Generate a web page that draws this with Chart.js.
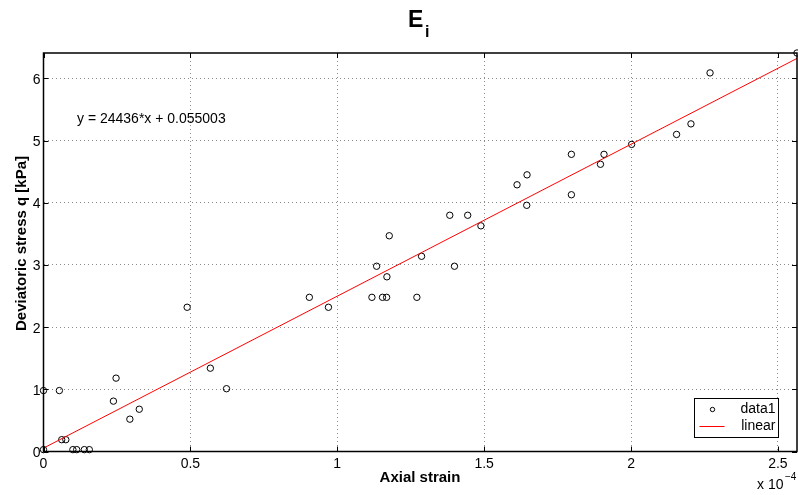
<!DOCTYPE html>
<html>
<head>
<meta charset="utf-8">
<script src="https://cdn.jsdelivr.net/npm/chart.js@4.4.1/dist/chart.umd.min.js"></script>
<style>
  html, body { margin: 0; padding: 0; background: #fff; }
  #wrap { width: 798px; height: 495px; position: relative; }
</style>
</head>
<body>
<div id="wrap"><canvas id="fitChart"></canvas></div>
<script>
// Axial strain (in units of 1e-4) and deviatoric stress q [kPa]
const strainE4 = [
  0, 0, 0.054, 0.062, 0.076, 0.100, 0.113, 0.139, 0.156,
  0.238, 0.247, 0.294, 0.326, 0.489, 0.568, 0.623,
  0.905, 0.970, 1.118, 1.134, 1.154, 1.168, 1.169, 1.177,
  1.271, 1.287, 1.383, 1.399, 1.444, 1.489, 1.612, 1.645,
  1.646, 1.797, 1.797, 1.896, 1.908, 2.002, 2.155, 2.204,
  2.269, 2.565
];
const stressKPa = [
  0.03, 0.98, 0.98, 0.19, 0.19, 0.03, 0.03, 0.03, 0.03,
  0.81, 1.18, 0.52, 0.68, 2.32, 1.34, 1.01,
  2.48, 2.32, 2.48, 2.98, 2.48, 2.48, 2.81, 3.47,
  2.48, 3.14, 3.80, 2.98, 3.80, 3.63, 4.29, 3.96,
  4.45, 4.78, 4.13, 4.62, 4.78, 4.94, 5.10, 5.27,
  6.09, 6.41
];

// linear fit reported on the plot
const fitSlope = 24436;
const fitIntercept = 0.055003;
const fitText = 'y = 24436*x + 0.055003';

const xTicks = [0, 0.5, 1, 1.5, 2, 2.5];
const yTicks = [0, 1, 2, 3, 4, 5, 6];
const xMax = 2.565;
const yMax = 6.41;

const points = strainE4.map((s, i) => ({ x: s, y: stressKPa[i] }));
const fitLine = [0, xMax].map(s => ({ x: s, y: fitSlope * s * 1e-4 + fitIntercept }));

const FONT = "'Liberation Sans', Arial, Helvetica, sans-serif";

// box, inward ticks, titles, equation and legend
const decorations = {
    id: 'decorations',
    afterDraw(chart) {
        const ctx = chart.ctx;
        const a = chart.chartArea;
        const xs = chart.scales.x, ys = chart.scales.y;
        ctx.save();

        // inward tick marks on all four sides
        ctx.strokeStyle = '#000';
        ctx.lineWidth = 1;
        ctx.beginPath();
        xTicks.forEach(t => {
            const px = Math.round(xs.getPixelForValue(t)) + 0.5;
            ctx.moveTo(px, a.bottom); ctx.lineTo(px, a.bottom - 5);
            ctx.moveTo(px, a.top); ctx.lineTo(px, a.top + 5);
        });
        yTicks.forEach(t => {
            const py = Math.round(ys.getPixelForValue(t)) + 0.5;
            ctx.moveTo(a.left, py); ctx.lineTo(a.left + 5, py);
            ctx.moveTo(a.right, py); ctx.lineTo(a.right - 5, py);
        });
        ctx.stroke();

        // axes box
        ctx.lineWidth = 1.5;
        ctx.strokeRect(a.left, a.top, a.right - a.left, a.bottom - a.top);

        // title E_i
        ctx.fillStyle = '#000';
        ctx.textBaseline = 'alphabetic';
        ctx.textAlign = 'left';
        ctx.font = 'bold 23px ' + FONT;
        ctx.fillText('E', 408, 27);
        ctx.font = 'bold 16px ' + FONT;
        ctx.fillText('i', 425, 37);

        // axis titles
        ctx.font = 'bold 15px ' + FONT;
        ctx.textAlign = 'center';
        ctx.textBaseline = 'middle';
        ctx.fillText('Axial strain', 420, 478);
        ctx.save();
        ctx.translate(21.5, 243.5);
        ctx.rotate(-Math.PI / 2);
        ctx.fillText('Deviatoric stress q [kPa]', 0, 0);
        ctx.restore();

        // x scale multiplier
        ctx.font = '14px ' + FONT;
        ctx.textAlign = 'left';
        ctx.fillText('x 10', 757, 485);
        ctx.font = '10px ' + FONT;
        ctx.fillText('\u22124', 785, 477);

        // fit equation
        ctx.font = '14px ' + FONT;
        ctx.fillText(fitText, 77, 119.5);

        // legend
        const lx = 694.5, ly = 398.5, lw = 84, lh = 39;
        ctx.fillStyle = '#fff';
        ctx.fillRect(lx, ly, lw, lh);
        ctx.strokeStyle = '#000';
        ctx.lineWidth = 1;
        ctx.strokeRect(lx, ly, lw, lh);
        ctx.beginPath();
        ctx.arc(lx + 18, ly + 11, 2.2, 0, Math.PI * 2);
        ctx.stroke();
        ctx.strokeStyle = '#ff0000';
        ctx.beginPath();
        ctx.moveTo(lx + 5, ly + 28); ctx.lineTo(lx + 30, ly + 28);
        ctx.stroke();
        ctx.fillStyle = '#000';
        ctx.font = '14px ' + FONT;
        ctx.textAlign = 'right';
        ctx.fillText('data1', lx + lw - 3, ly + 11);
        ctx.fillText('linear', lx + lw - 3, ly + 28);

        ctx.restore();
    }
};

const ctx = document.getElementById('fitChart').getContext('2d');
new Chart(ctx, {
    type: 'scatter',
    data: {
        datasets: [
            {
                label: 'data1',
                data: points,
                showLine: false,
                clip: false,
                pointStyle: 'circle',
                pointRadius: 3.2,
                pointBorderWidth: 1,
                pointBorderColor: '#000',
                pointBackgroundColor: 'rgba(0,0,0,0)',
                order: 2
            },
            {
                label: 'linear',
                data: fitLine,
                showLine: true,
                borderColor: '#ff0000',
                borderWidth: 1,
                pointRadius: 0,
                order: 1
            }
        ]
    },
    options: {
        responsive: true,
        maintainAspectRatio: false,
        animation: false,
        events: [],
        layout: {
            autoPadding: false,
            padding: { top: 53, right: 1, left: 0, bottom: 0 }
        },
        plugins: {
            legend: { display: false },
            tooltip: { enabled: false }
        },
        scales: {
            x: {
                type: 'linear',
                min: 0,
                max: xMax,
                afterBuildTicks: scale => { scale.ticks = xTicks.map(v => ({ value: v })); },
                afterFit: scale => { scale.height = 43.5; },
                ticks: {
                    padding: 4,
                    color: '#000',
                    font: { family: FONT, size: 14 },
                    callback: v => String(v)
                },
                grid: { color: 'rgba(0,0,0,0.45)', lineWidth: 1, drawTicks: false },
                border: { display: false, dash: [1, 3] }
            },
            y: {
                type: 'linear',
                min: 0,
                max: yMax,
                afterBuildTicks: scale => { scale.ticks = yTicks.map(v => ({ value: v })); },
                afterFit: scale => { scale.width = 43.5; },
                ticks: {
                    padding: 3,
                    labelOffset: 1.5,
                    color: '#000',
                    font: { family: FONT, size: 14 },
                    callback: v => String(v)
                },
                grid: { color: 'rgba(0,0,0,0.45)', lineWidth: 1, drawTicks: false },
                border: { display: false, dash: [1, 3] }
            }
        }
    },
    plugins: [decorations]
});
</script>
</body>
</html>
